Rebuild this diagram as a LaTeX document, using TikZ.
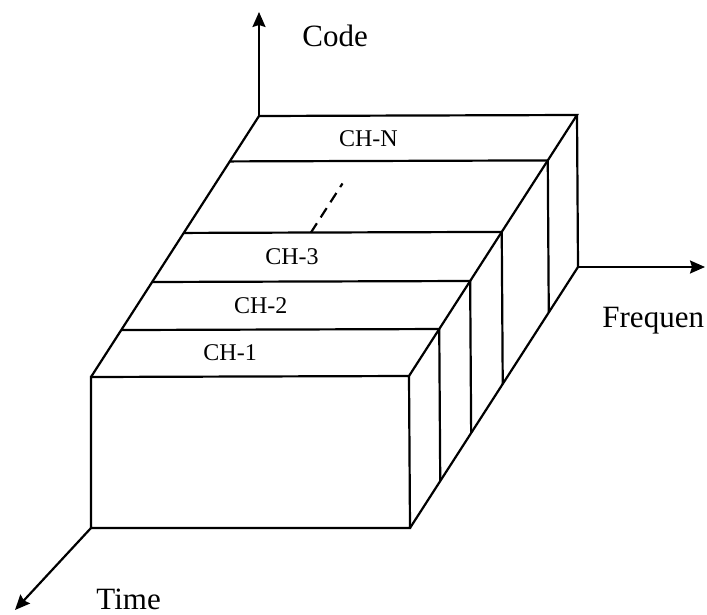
\documentclass[tikz,border=0pt]{standalone}
\usepackage{fontspec}
\setmainfont{Liberation Serif}
\usetikzlibrary{calc,arrows.meta}

\begin{document}
\begin{tikzpicture}[x=1pt,y=-1pt,line width=2.2pt,>={Stealth[length=15pt,width=13pt,inset=2pt]},
  axislabel/.style={font=\fontsize{31}{31}\selectfont,anchor=base west},
  chlabel/.style={font=\fontsize{24}{24}\selectfont}]
\useasboundingbox (0,0) rectangle (707,615);
% front face and depth corners of the block
\coordinate (A) at (91,377);
\coordinate (B) at (409,376);
\coordinate (C) at (410,528);
\coordinate (D) at (91,528);
\coordinate (E) at (259,116);
\coordinate (F) at (577,115);
\coordinate (G) at (578,267);
\draw (A) -- (B) -- (C) -- (D) -- cycle;
\draw (A) -- (E) -- (F) -- (B);
\draw (F) -- (G) -- (C);
% channel slices
\foreach \t in {0.18,0.364,0.552,0.826}
  \draw ($(A)!\t!(E)$) -- ($(B)!\t!(F)$) -- ($(C)!\t!(G)$);
\foreach \t/\n/\lab in {0.09/1/CH-1,0.272/2/CH-2,0.458/3/CH-3,0.913/N/CH-N}
  \node[chlabel] (ch\n) at ($($(A)!\t!(E)$)!0.39!($(B)!\t!(F)$)$) {\lab};
\draw[dash pattern=on 11pt off 7pt] ($($(A)!0.552!(E)$)!0.40!($(B)!0.552!(F)$)$)
  -- ($($(A)!0.74!(E)$)!0.40!($(B)!0.74!(F)$)$);
% axes
\coordinate (code) at (259,12);
\coordinate (freq) at (705,267);
\coordinate (time) at (15,610);
\draw[->] (E) -- (code);
\draw[->] (G) -- (freq);
\draw[->] (D) -- (time);
\node[axislabel] (codelabel) at (298,47) {Code};
\node[axislabel] (freqlabel) at (598,327) {Frequen};
\node[axislabel] (timelabel) at (92,609) {Time};
\end{tikzpicture}
\end{document}
